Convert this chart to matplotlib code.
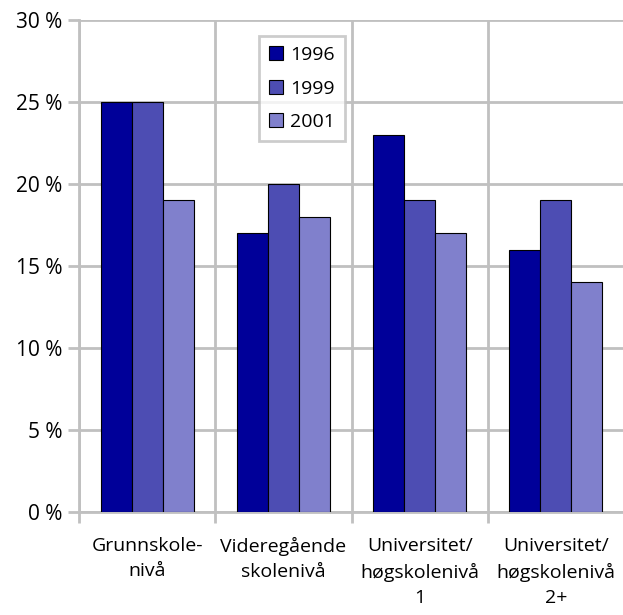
import numpy as np
import matplotlib.pyplot as plt
from matplotlib.ticker import FuncFormatter

plt.rcParams['font.family'] = ['Open Sans', 'DejaVu Sans']

categories = ["Grunnskole-\nnivå", "Videregående\nskolenivå",
              "Universitet/\nhøgskolenivå\n1", "Universitet/\nhøgskolenivå\n2+"]
years = ["1996", "1999", "2001"]
v1996 = [25, 17, 23, 16]
v1999 = [25, 20, 19, 19]
v2001 = [19, 18, 17, 14]
colors = ["#000099", "#4d4db3", "#8080cc"]

fig = plt.figure(figsize=(6.23, 6.15), dpi=100)
ax = fig.add_axes([79 / 623, 103 / 615, 545 / 623, 492 / 615])

x = np.arange(len(categories))
w = 0.227
for i, (vals, yr) in enumerate(zip([v1996, v1999, v2001], years)):
    ax.bar(x + (i - 1) * w, vals, w, color=colors[i], edgecolor="black",
           linewidth=0.8, label=yr, zorder=3)

grid_c = "#c0c0c0"
ax.set_xlim(-0.5, 3.5)
ax.set_ylim(0, 30)
ax.set_yticks(range(0, 31, 5))
ax.yaxis.set_major_formatter(FuncFormatter(lambda v, p: f"{int(v)} %"))
ax.set_xticks(np.arange(-0.5, 4, 1))
ax.set_xticklabels([])
ax.set_xticks(x, minor=True)
ax.set_xticklabels(categories, minor=True, fontsize=14, linespacing=1.5, va="top")
ax.tick_params(axis="x", which="minor", length=0, pad=18)
ax.tick_params(axis="x", which="major", length=8, width=2, color=grid_c)
ax.tick_params(axis="y", length=8, width=2, color=grid_c, labelsize=15, pad=4)
ax.grid(True, which="major", color=grid_c, linewidth=2, zorder=0)
for s in ["top", "right"]:
    ax.spines[s].set_visible(False)
for s in ["left", "bottom"]:
    ax.spines[s].set_color(grid_c)
    ax.spines[s].set_linewidth(2)

leg = ax.legend(loc="upper left", bbox_to_anchor=(0.33, 0.967), fontsize=14,
                frameon=True, fancybox=False, handlelength=0.75, handleheight=0.75,
                handletextpad=0.35, labelspacing=0.8, borderpad=0.5,
                borderaxespad=0)
leg.get_frame().set_edgecolor(grid_c)
leg.get_frame().set_linewidth(2)
leg.set_zorder(5)

fig.savefig("out.png", dpi=100)
